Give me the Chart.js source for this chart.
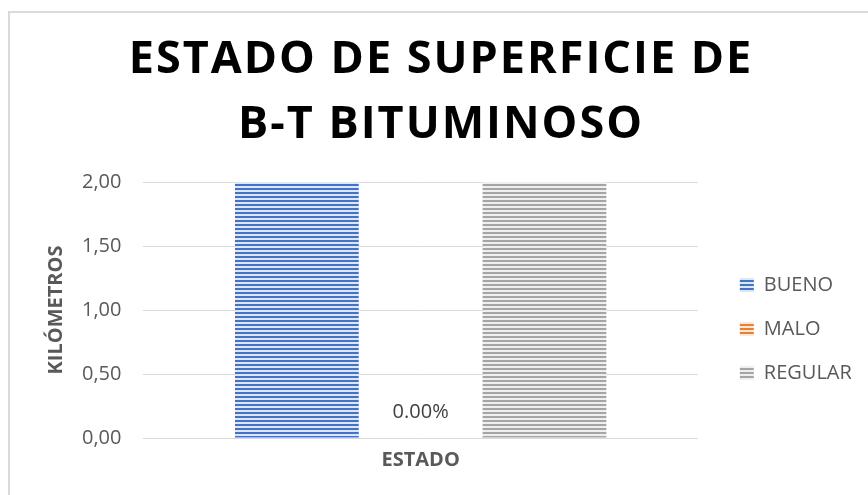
<!DOCTYPE html>
<html>
<head>
<meta charset="utf-8">
<script src="https://cdn.jsdelivr.net/npm/chart.js@4.4.1/dist/chart.umd.min.js"></script>
<style>
  html, body { margin: 0; padding: 0; background: #fff; }
  #wrap { position: relative; width: 868px; height: 495px; overflow: hidden; }
  #marco { position: absolute; left: 8px; top: 11px; width: 900px; height: 520px;
           border-left: 2px solid #d9d9d9; border-top: 2px solid #d9d9d9; }
  #chart { position: absolute; left: 0; top: 0; }
</style>
</head>
<body>
<div id="wrap">
  <div id="marco"></div>
  <canvas id="chart" width="868" height="495"></canvas>
</div>
<script>
var categorias = ['ESTADO'];
var series = ['BUENO', 'MALO', 'REGULAR'];
var valores = [[2.00], [0.00], [2.00]];
var colores = ['#4472C4', '#ED7D31', '#A5A5A5'];
var etiquetas = [null, '0.00%', null];
var titulo = ['ESTADO DE SUPERFICIE DE', 'B-T BITUMINOSO'];

// horizontal stripes like the excel fill
function rayas(color) {
    var c = document.createElement('canvas');
    c.width = 4; c.height = 4;
    var g = c.getContext('2d');
    g.fillStyle = '#ffffff';
    g.fillRect(0, 0, 4, 4);
    g.globalAlpha = 0.18;
    g.fillStyle = color;
    g.fillRect(0, 0, 4, 4);
    g.globalAlpha = 1;
    g.fillRect(0, 0, 4, 2);
    return g.createPattern(c, 'repeat');
}

// title drawn with letter spacing, in the space the (invisible) chart.js title keeps
var tituloPlugin = {
    id: 'tituloEspaciado',
    afterDraw: function(chart) {
        var tb = chart.titleBlock;
        var ctx = chart.ctx;
        var lh = 65;
        ctx.save();
        ctx.font = 'bold 45px "Open Sans"';
        ctx.letterSpacing = '2px';
        ctx.fillStyle = '#000000';
        ctx.textAlign = 'center';
        ctx.textBaseline = 'middle';
        titulo.forEach(function(linea, i) {
            ctx.fillText(linea, chart.width / 2 + 7, tb.top + lh * (i + 0.5));
        });
        ctx.restore();
    }
};

var etiquetaPlugin = {
    id: 'etiquetas',
    afterDatasetsDraw: function(chart) {
        var ctx = chart.ctx;
        ctx.save();
        ctx.font = '20px "Open Sans"';
        ctx.fillStyle = '#404040';
        ctx.textAlign = 'center';
        ctx.textBaseline = 'middle';
        chart.data.datasets.forEach(function(ds, i) {
            if (!etiquetas[i]) return;
            chart.getDatasetMeta(i).data.forEach(function(bar) {
                ctx.fillText(etiquetas[i], bar.x, bar.y - 26);
            });
        });
        ctx.restore();
    }
};

var datasets = series.map(function(nombre, i) {
    return {
        label: nombre,
        data: valores[i],
        backgroundColor: rayas(colores[i]),
        borderWidth: 0
    };
});

var ctx = document.getElementById('chart').getContext('2d');
new Chart(ctx, {
    type: 'bar',
    data: { labels: categorias, datasets: datasets },
    plugins: [tituloPlugin, etiquetaPlugin],
    options: {
        responsive: false,
        animation: false,
        layout: { padding: { left: 40, right: 17, top: 28, bottom: 21 } },
        datasets: { bar: { categoryPercentage: 0.67, barPercentage: 1 } },
        plugins: {
            title: {
                display: true,
                text: titulo,
                color: 'rgba(0,0,0,0)',
                font: { family: 'Open Sans', size: 45, weight: 'bold', lineHeight: '65px' },
                padding: { top: 0, bottom: 24 }
            },
            legend: {
                position: 'right',
                fullSize: false,
                title: { display: true, text: ' ', padding: 0, font: { size: 10, lineHeight: '38px' } },
                labels: {
                    color: '#595959',
                    font: { family: 'Open Sans', size: 20 },
                    boxWidth: 14,
                    boxHeight: 14,
                    padding: 24
                }
            },
            tooltip: { enabled: false }
        },
        scales: {
            x: {
                grid: { display: false },
                border: { color: '#d9d9d9' },
                ticks: { color: '#595959', font: { family: 'Open Sans', size: 20, weight: 'bold' }, padding: 2 }
            },
            y: {
                min: 0,
                max: 2,
                ticks: {
                    stepSize: 0.5,
                    color: '#595959',
                    font: { family: 'Open Sans', size: 20 },
                    padding: 22,
                    callback: function(v) { return v.toFixed(2).replace('.', ','); }
                },
                grid: { color: '#d9d9d9', drawTicks: false },
                border: { display: false },
                title: {
                    display: true,
                    text: 'KILÓMETROS',
                    color: '#595959',
                    padding: { top: 4, bottom: -8 },
                    font: { family: 'Open Sans', size: 20, weight: 'bold' }
                }
            },
            // empty axis, only keeps the gap between plot and legend
            hueco: {
                position: 'right',
                display: true,
                grid: { display: false },
                border: { display: false },
                ticks: { display: false },
                afterFit: function(s) { s.width = 18; }
            }
        }
    }
});
</script>
</body>
</html>
